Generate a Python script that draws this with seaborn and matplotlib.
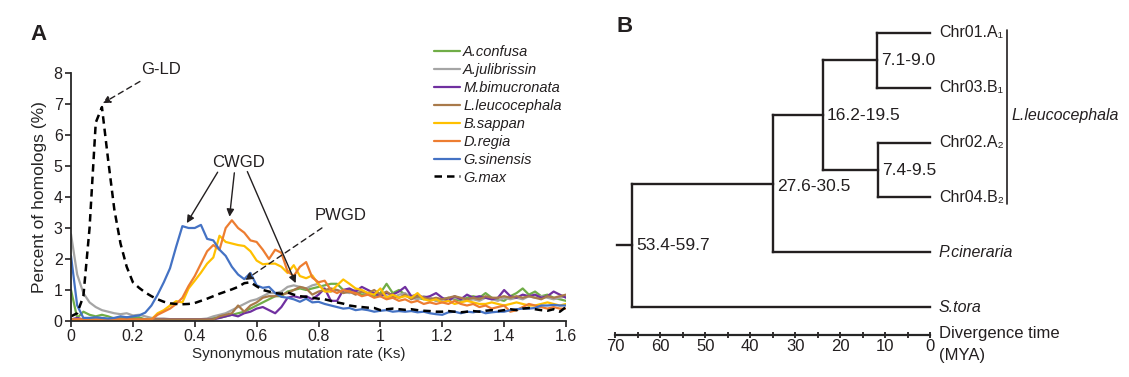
import numpy as np
import pandas as pd
import matplotlib
matplotlib.use('Agg')
import matplotlib.pyplot as plt
import matplotlib.ticker as mticker
import seaborn as sns

# ---------------- DATA: panel A (Ks distributions, % of homologs) ----------------
KS = np.round(np.arange(0, 1.601, 0.02), 2)

a_confusa = [1.0, 0.1, 0.3, 0.2, 0.15, 0.2, 0.15, 0.08, 0.1, 0.12,
             0.1, 0.12, 0.05, 0.05, 0.05, 0.05, 0.05, 0.05, 0.05, 0.05,
             0.05, 0.05, 0.05, 0.1, 0.1, 0.15, 0.2, 0.25, 0.3, 0.4,
             0.5, 0.6, 0.7, 0.8, 0.8, 0.95, 1.0, 1.05, 1.0, 1.05,
             1.1, 1.15, 1.2, 1.2, 1.0, 1.0, 0.95, 0.85, 0.9, 0.8,
             0.9, 1.2, 0.9, 1.0, 0.85, 0.8, 0.75, 0.7, 0.75, 0.65,
             0.7, 0.75, 0.7, 0.65, 0.75, 0.8, 0.75, 0.9, 0.75, 0.7,
             0.65, 0.8, 0.9, 1.05, 0.85, 0.95, 0.8, 0.85, 0.75, 0.7,
             0.65]
a_julibrissin = [2.8, 1.5, 0.9, 0.6, 0.45, 0.35, 0.3, 0.25, 0.22, 0.25,
                 0.18, 0.2, 0.15, 0.1, 0.08, 0.08, 0.06, 0.06, 0.06, 0.06,
                 0.06, 0.06, 0.08, 0.15, 0.2, 0.25, 0.35, 0.45, 0.55, 0.65,
                 0.7, 0.8, 0.9, 0.9, 0.95, 1.1, 1.15, 1.1, 1.05, 1.15,
                 1.2, 1.0, 0.95, 1.0, 0.95, 0.9, 1.0, 0.95, 0.85, 0.9,
                 0.85, 0.8, 0.75, 0.85, 0.9, 0.75, 0.7, 0.8, 0.75, 0.65,
                 0.7, 0.65, 0.75, 0.7, 0.65, 0.7, 0.65, 0.75, 0.7, 0.65,
                 0.75, 0.7, 0.75, 0.7, 0.8, 0.75, 0.8, 0.75, 0.7, 0.75,
                 0.8]
m_bimucronata = [0.05, 0.1, 0.05, 0.05, 0.05, 0.05, 0.05, 0.05, 0.05, 0.05,
                 0.05, 0.05, 0.05, 0.05, 0.05, 0.05, 0.05, 0.05, 0.05, 0.05,
                 0.05, 0.05, 0.05, 0.05, 0.1, 0.15, 0.2, 0.15, 0.25, 0.3,
                 0.4, 0.45, 0.35, 0.25, 0.45, 0.75, 0.8, 0.75, 0.8, 0.7,
                 0.85, 1.05, 0.65, 0.65, 1.0, 1.05, 0.95, 1.1, 1.0, 0.9,
                 0.8, 0.9, 0.85, 0.95, 1.1, 0.8, 0.85, 0.75, 0.8, 0.9,
                 0.75, 0.65, 0.8, 0.7, 0.85, 0.75, 0.8, 0.75, 0.7, 0.75,
                 1.0, 0.8, 0.75, 0.85, 0.8, 0.85, 0.75, 0.8, 0.95, 0.85,
                 0.75]
l_leucocephala = [0.05, 0.05, 0.05, 0.05, 0.05, 0.05, 0.05, 0.05, 0.05, 0.05,
                  0.05, 0.05, 0.05, 0.05, 0.05, 0.05, 0.05, 0.05, 0.05, 0.05,
                  0.05, 0.05, 0.05, 0.05, 0.15, 0.2, 0.25, 0.5, 0.3, 0.5,
                  0.6, 0.75, 0.8, 0.8, 0.85, 0.9, 1.0, 1.1, 1.05, 0.85,
                  0.95, 1.0, 1.05, 1.0, 0.9, 0.95, 0.85, 0.95, 0.9, 1.0,
                  0.85, 0.95, 0.8, 0.75, 0.85, 0.7, 0.8, 0.75, 0.7, 0.75,
                  0.7, 0.75, 0.8, 0.75, 0.7, 0.75, 0.7, 0.8, 0.75, 0.75,
                  0.8, 0.75, 0.8, 0.75, 0.8, 0.75, 0.7, 0.8, 0.75, 0.8,
                  0.85]
b_sappan = [0.03, 0.03, 0.03, 0.03, 0.03, 0.03, 0.03, 0.03, 0.03, 0.03,
            0.03, 0.03, 0.03, 0.05, 0.25, 0.35, 0.5, 0.64, 0.6, 1.05,
            1.3, 1.56, 1.85, 2.05, 2.75, 2.55, 2.5, 2.45, 2.42, 2.25,
            1.95, 1.83, 1.85, 1.85, 1.75, 1.55, 1.8, 1.45, 1.38, 1.47,
            1.18, 0.95, 0.95, 1.15, 1.34, 1.2, 1.05, 1.0, 0.9, 0.85,
            1.05, 0.75, 0.85, 0.75, 0.8, 0.75, 0.9, 0.7, 0.65, 0.7,
            0.6, 0.65, 0.55, 0.6, 0.65, 0.6, 0.55, 0.55, 0.6, 0.55,
            0.5, 0.55, 0.6, 0.55, 0.5, 0.5, 0.55, 0.6, 0.55, 0.5,
            0.55]
d_regia = [0.05, 0.05, 0.05, 0.05, 0.05, 0.05, 0.05, 0.05, 0.05, 0.05,
           0.05, 0.05, 0.05, 0.05, 0.2, 0.3, 0.4, 0.55, 0.75, 1.13,
           1.45, 1.85, 2.25, 2.45, 2.3, 3.0, 3.25, 3.0, 2.85, 2.6,
           2.55, 2.3, 2.0, 2.3, 2.2, 1.6, 1.45, 1.75, 1.9, 1.4,
           1.25, 1.3, 1.0, 0.9, 1.0, 0.95, 0.9, 0.8, 0.85, 0.75,
           0.8, 0.7, 0.75, 0.65, 0.7, 0.6, 0.65, 0.55, 0.6, 0.55,
           0.6, 0.55, 0.65, 0.55, 0.5, 0.55, 0.45, 0.5, 0.4, 0.45,
           0.5, 0.3, 0.35, 0.45, 0.55, 0.5, 0.45, 0.4, 0.45, 0.4,
           0.4]
g_sinensis = [2.1, 0.5, 0.1, 0.1, 0.12, 0.1, 0.08, 0.1, 0.15, 0.12,
              0.15, 0.18, 0.27, 0.5, 0.85, 1.25, 1.7, 2.4, 3.06, 3.0,
              3.0, 3.1, 2.65, 2.6, 2.3, 2.1, 1.75, 1.5, 1.35, 1.55,
              1.15, 1.07, 1.1, 0.9, 0.78, 0.75, 0.7, 0.62, 0.72, 0.6,
              0.62, 0.55, 0.5, 0.45, 0.4, 0.42, 0.35, 0.38, 0.35, 0.3,
              0.33, 0.35, 0.3, 0.32, 0.3, 0.32, 0.28, 0.3, 0.25, 0.22,
              0.2, 0.28, 0.3, 0.25, 0.3, 0.28, 0.32, 0.25, 0.28, 0.3,
              0.3, 0.35, 0.38, 0.4, 0.4, 0.42, 0.5, 0.5, 0.52, 0.5,
              0.5]
g_max = [0.15, 0.25, 0.8, 3.0, 6.4, 6.9, 5.2, 3.6, 2.5, 1.75,
         1.25, 1.07, 0.92, 0.8, 0.7, 0.62, 0.57, 0.55, 0.54, 0.55,
         0.58, 0.65, 0.72, 0.8, 0.88, 0.95, 1.02, 1.1, 1.22, 1.25,
         1.12, 1.0, 0.95, 0.9, 0.88, 0.92, 0.85, 0.8, 0.78, 0.75,
         0.72, 0.7, 0.65, 0.6, 0.56, 0.5, 0.47, 0.45, 0.43, 0.42,
         0.35, 0.38, 0.4, 0.38, 0.36, 0.38, 0.35, 0.33, 0.32, 0.3,
         0.3, 0.32, 0.3, 0.28, 0.3, 0.32, 0.3, 0.33, 0.35, 0.32,
         0.35, 0.38, 0.35, 0.4, 0.42, 0.38, 0.35, 0.33, 0.38, 0.3,
         0.45]

species = ["A.confusa", "A.julibrissin", "M.bimucronata", "L.leucocephala",
           "B.sappan", "D.regia", "G.sinensis", "G.max"]
series = [a_confusa, a_julibrissin, m_bimucronata, l_leucocephala,
          b_sappan, d_regia, g_sinensis, g_max]
colors = ["#70AD47", "#A5A5A5", "#7030A0", "#A97A4A",
          "#FFC000", "#ED7D31", "#4472C4", "#000000"]

# ---------------- DATA: panel B (divergence tree, MYA) ----------------
tip_names = ["Chr01.A\u2081", "Chr03.B\u2081", "Chr02.A\u2082", "Chr04.B\u2082",
             "P.cineraria", "S.tora"]
tip_italic = [False, False, False, False, True, True]
# internal nodes: children (ints are tips), age in MYA, label
node_children = {"n_c": [0, 1], "n_d": [2, 3], "n_b": ["n_c", "n_d"],
                 "n_a": ["n_b", 4], "root": ["n_a", 5]}
node_age = {"n_c": 11.8, "n_d": 11.6, "n_b": 23.8, "n_a": 35.0, "root": 66.3}
node_label = {"n_c": "7.1-9.0", "n_d": "7.4-9.5", "n_b": "16.2-19.5",
              "n_a": "27.6-30.5", "root": "53.4-59.7"}
time_ticks = [70, 60, 50, 40, 30, 20, 10, 0]

# ---------------- STYLE ----------------
sns.set_style("ticks")
plt.rcParams['font.family'] = ['Liberation Sans', 'DejaVu Sans']
plt.rcParams['axes.linewidth'] = 1.3
plt.rcParams['text.color'] = '#231F20'

W, H = 1129, 377
fig = plt.figure(figsize=(W / 100, H / 100), dpi=100)

def fx(px):
    return px / W

def fy(py):
    return 1 - py / H

# ---------------- PANEL A ----------------
axA = fig.add_axes([fx(71), fy(321), fx(566) - fx(71), fy(73) - fy(321)])
for name, vals, col in zip(species, series, colors):
    if name == "G.max":
        sns.lineplot(x=KS, y=vals, color=col, lw=1.8, ax=axA, label=name,
                     linestyle=(0, (3, 2)))
    else:
        sns.lineplot(x=KS, y=vals, color=col, lw=1.6, ax=axA, label=name)

axA.set_xlim(0, 1.6)
axA.set_ylim(0, 8)
axA.set_xticks(np.arange(0, 1.61, 0.2))
axA.set_yticks(range(0, 9))
axA.xaxis.set_major_formatter(mticker.FuncFormatter(lambda v, p: f"{v:g}"))
axA.tick_params(labelsize=11.5, length=4, width=1.2, pad=2, colors='#231F20')
sns.despine(ax=axA)
axA.set_xlabel("Synonymous mutation rate (Ks)", fontsize=11, va='center')
axA.xaxis.set_label_coords(0.46, -0.135)
axA.set_ylabel("Percent of homologs (%)", fontsize=12.5, labelpad=5)

leg = axA.legend(loc='upper left', bbox_to_anchor=(fx(434), fy(45)),
                 bbox_transform=fig.transFigure, frameon=False, fontsize=10.5,
                 handlelength=1.8, handletextpad=0.2, labelspacing=0.27,
                 borderpad=0, borderaxespad=0)
for t in leg.get_texts():
    t.set_fontstyle('italic')

dash_kw = dict(arrowstyle='-|>', color='#231F20', lw=1.0, mutation_scale=11,
               linestyle=(0, (4, 3)))
axA.annotate("G-LD", xy=(0.095, 6.98), xytext=(0.29, 8.12), fontsize=12,
             ha='center', va='center', arrowprops=dash_kw, annotation_clip=False)
axA.annotate("PWGD", xy=(0.555, 1.27), xytext=(0.87, 3.4), fontsize=12,
             ha='center', va='center', arrowprops=dash_kw)
axA.text(0.542, 5.12, "CWGD", fontsize=12, ha='center', va='center')
cwgd_from = [(0.474, 4.8), (0.528, 4.78), (0.570, 4.82)]
cwgd_to = [(0.372, 3.12), (0.512, 3.32), (0.728, 1.18)]
for src, tgt in zip(cwgd_from, cwgd_to):
    axA.annotate("", xy=tgt, xytext=src,
                 arrowprops=dict(arrowstyle='-|>', color='#231F20', lw=1.0,
                                 mutation_scale=11, shrinkA=0, shrinkB=1))

fig.text(fx(30), fy(34), "A", fontsize=16, fontweight='bold', va='center')

# ---------------- PANEL B ----------------
axB = fig.add_axes([fx(615.5), fy(335), fx(930) - fx(615.5), fy(33) - fy(335)])
axB.set_xlim(70, 0)
axB.set_ylim(5.51, 0)

ypos = {}

def node_y(n):
    if isinstance(n, int):
        return n
    if n not in ypos:
        ys = [node_y(c) for c in node_children[n]]
        ypos[n] = (min(ys) + max(ys)) / 2
    return ypos[n]

def age(n):
    return 0.0 if isinstance(n, int) else node_age[n]

lk = dict(color='#231F20', lw=1.7, solid_capstyle='projecting', clip_on=False)
for n, kids in node_children.items():
    xa = node_age[n]
    ys = [node_y(c) for c in kids]
    axB.plot([xa, xa], [min(ys), max(ys)], **lk)
    for c in kids:
        axB.plot([xa, age(c)], [node_y(c), node_y(c)], **lk)
    axB.text(xa - 0.9, node_y(n) + (0.05 if n == "n_a" else 0), node_label[n],
             fontsize=12.5, va='center', ha='left')
# root stub
axB.plot([69.6, node_age["root"]], [node_y("root")] * 2, **lk)

for i, (nm, it) in enumerate(zip(tip_names, tip_italic)):
    axB.text(-2.0, i, nm, fontsize=11.5, va='center', ha='left',
             style='italic' if it else 'normal')

axB.plot([-17.1, -17.1], [-0.05, 3.12], color='#231F20', lw=1.2, clip_on=False)
axB.text(-18.2, 1.5, "L.leucocephala", fontsize=11.5, style='italic',
         va='center', ha='left')

for s in ['left', 'top', 'right']:
    axB.spines[s].set_visible(False)
axB.spines['bottom'].set_linewidth(1.6)
axB.set_yticks([])
axB.set_xticks(time_ticks)
axB.set_xticklabels([str(t) for t in time_ticks])
axB.set_xticks([65, 55, 45, 35, 25, 15, 5], minor=True)
axB.tick_params(axis='x', which='both', direction='inout', length=4, width=1.3,
                labelsize=12, pad=1, colors='#231F20')
axB.text(-2.0, 5.48, "Divergence time", fontsize=12, va='center', ha='left')
axB.text(-2.0, 5.48 + 22 / 54.8, "(MYA)", fontsize=12, va='center', ha='left',
         clip_on=False)

fig.text(fx(616), fy(27), "B", fontsize=16, fontweight='bold', va='center')

fig.savefig("out.png", dpi=100)
